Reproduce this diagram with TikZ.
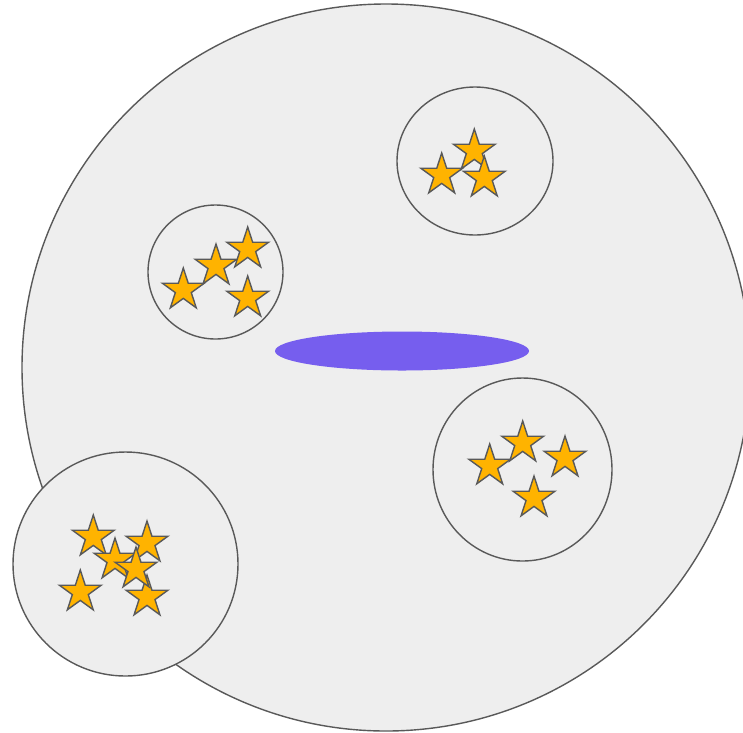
\documentclass[tikz,border=0pt]{standalone}
\usetikzlibrary{shapes.geometric}
\definecolor{bgfill}{HTML}{EEEEEE}
\definecolor{edge}{HTML}{595959}
\definecolor{starfill}{HTML}{FFB300}
\definecolor{lens}{HTML}{765EEE}
\tikzset{
  group/.style={draw=edge, fill=bgfill, line width=1.4pt},
  astar/.style={star, star points=5, star point ratio=2.618, minimum size=44pt, inner sep=0pt, outer sep=0pt, draw=edge, fill=starfill, line width=1.4pt},
}
\begin{document}
\begin{tikzpicture}[x=1pt,y=-1pt]
\useasboundingbox (0,0) rectangle (743,732);
\clip (0,0) rectangle (743,732);
% big circle
\draw[group] (386,367.5) ellipse[x radius=364, y radius=363.5];
% lens
\fill[lens] (402,351) ellipse[x radius=127, y radius=19.5];
% top-right group
\draw[group] (475,161) ellipse[x radius=78, y radius=74];
\node[astar] (s1) at (474.3,151) {};
\node[astar] (s2) at (441.7,175) {};
\node[astar] (s3) at (484.3,178) {};
% left group
\draw[group] (215.5,272) ellipse[x radius=67.5, y radius=67];
\node[astar] (s4) at (183.3,290) {};
\node[astar] (s5) at (216,266) {};
\node[astar] (s6) at (247.7,249) {};
\node[astar] (s7) at (247.7,298) {};
% right group
\draw[group] (522.5,469.5) ellipse[x radius=89.5, y radius=91.5];
\node[astar] (s8) at (489.7,466) {};
\node[astar] (s9) at (522.7,443) {};
\node[astar] (s10) at (565,458) {};
\node[astar] (s11) at (534,498) {};
% bottom-left group
\draw[group] (125.5,564) ellipse[x radius=112.5, y radius=112];
\node[astar] (s12) at (93.3,537) {};
\node[astar] (s13) at (147,543) {};
\node[astar] (s14) at (115,560) {};
\node[astar] (s15) at (80.3,592) {};
\node[astar] (s16) at (147,597) {};
\node[astar] (s17) at (136,569) {};
\end{tikzpicture}
\end{document}
